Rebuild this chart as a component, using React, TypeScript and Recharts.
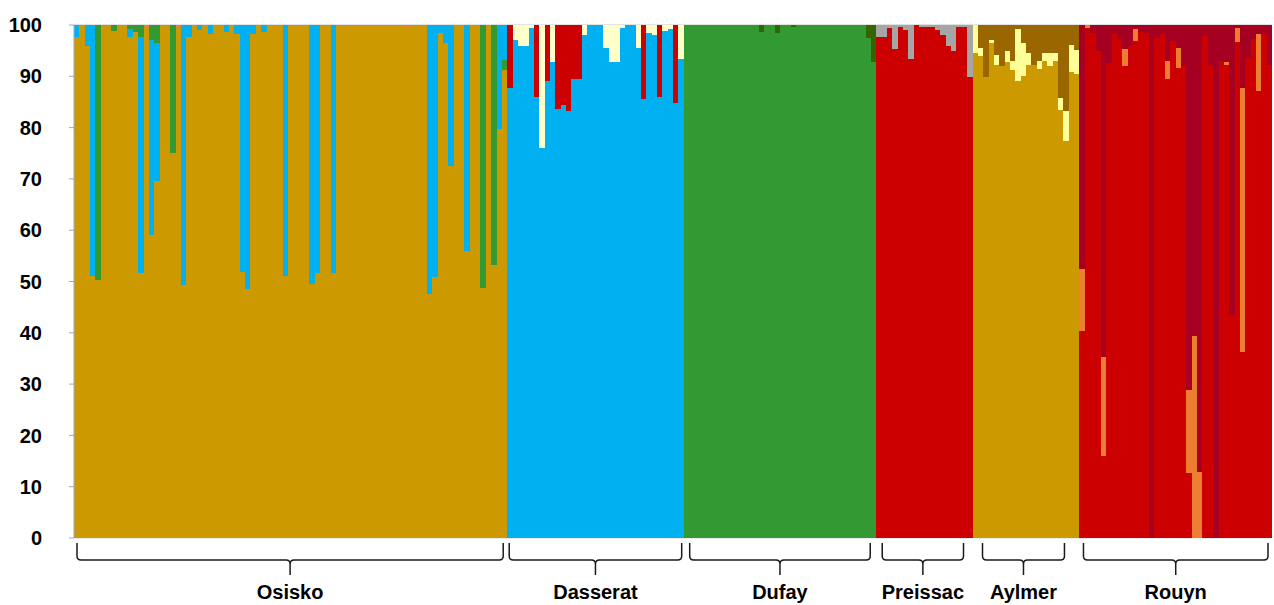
import { BarChart, Bar, XAxis, YAxis, CartesianGrid } from 'recharts';

// membership (%) per individual, one array per cluster and site
const osiskoGold = [
  97.7, 100, 96, 51, 50.3, 100, 100, 98.8, 100, 100,
  97.7, 98.6, 51.7, 99.6, 59, 69.5, 100, 100, 75, 99.5,
  49.3, 97.7, 100, 99, 100, 98.2, 100, 100, 98.6, 100,
  98.2, 51.9, 48.5, 98.2, 100, 98.6, 100, 100, 100, 51.1,
  100, 100, 100, 100, 49.6, 51.6, 100, 100, 51.7, 100,
  100, 100, 100, 100, 100, 100, 100, 100, 100, 100,
  100, 100, 99.5, 100, 100, 100, 47.5, 50.9, 98.5, 96.4,
  72.5, 100, 100, 56, 100, 100, 48.7, 100, 53.2, 79.7,
  91.2,
];
const osiskoBlue = [
  2.3, 0, 4, 49, 0, 0, 0, 0, 0, 0,
  1.5, 0, 46, 0, 38, 26.9, 0, 0, 0, 0,
  50.7, 2.3, 0, 1, 0, 1.8, 0, 0, 1.4, 0,
  1.8, 48.1, 51.5, 1.8, 0, 1.4, 0, 0, 0, 48.9,
  0, 0, 0, 0, 50.4, 48.4, 0, 0, 48.3, 0,
  0, 0, 0, 0, 0, 0, 0, 0, 0, 0,
  0, 0, 0, 0, 0, 0, 52.5, 49.1, 1.5, 3.6,
  27.5, 0, 0, 44, 0, 0, 0, 0, 0, 20.3,
  6.8,
];
const osiskoGreen = [
  0, 0, 0, 0, 49.7, 0, 0, 1.2, 0, 0,
  0, 1.4, 0, 0, 0, 0, 0, 0, 25, 0,
  0, 0, 0, 0, 0, 0, 0, 0, 0, 0,
  0, 0, 0, 0, 0, 0, 0, 0, 0, 0,
  0, 0, 0, 0, 0, 0, 0, 0, 0, 0,
  0, 0, 0, 0, 0, 0, 0, 0, 0, 0,
  0, 0, 0, 0, 0, 0, 0, 0, 0, 0,
  0, 0, 0, 0, 0, 0, 51.3, 0, 46.8, 0,
  2,
];
const osiskoGreenTop = [
  0, 0, 0, 0, 0, 0, 0, 0, 0, 0,
  0.8, 0, 2.3, 0, 3, 3.6, 0, 0, 0, 0,
  0, 0, 0, 0, 0, 0, 0, 0, 0, 0,
  0, 0, 0, 0, 0, 0, 0, 0, 0, 0,
  0, 0, 0, 0, 0, 0, 0, 0, 0, 0,
  0, 0, 0, 0, 0, 0, 0, 0, 0, 0,
  0, 0, 0, 0, 0, 0, 0, 0, 0, 0,
  0, 0, 0, 0, 0, 0, 0, 0, 0, 0,
  0,
];
const osiskoOrange = [
  0, 0, 0, 0, 0, 0, 0, 0, 0, 0,
  0, 0, 0, 0.4, 0, 0, 0, 0, 0, 0.5,
  0, 0, 0, 0, 0, 0, 0, 0, 0, 0,
  0, 0, 0, 0, 0, 0, 0, 0, 0, 0,
  0, 0, 0, 0, 0, 0, 0, 0, 0, 0,
  0, 0, 0, 0, 0, 0, 0, 0, 0, 0,
  0, 0, 0.5, 0, 0, 0, 0, 0, 0, 0,
  0, 0, 0, 0, 0, 0, 0, 0, 0, 0,
  0,
];

const dasseratBlue = [
  87.7, 97.1, 95.9, 95.9, 99.5, 86, 76, 89.1, 92.8, 83.6,
  84.4, 83.3, 89.4, 89.5, 98, 100, 100, 100, 95.6, 92.7,
  92.8, 99.5, 100, 100, 95.6, 85.5, 98.5, 98, 86, 98.9,
  99.2, 84.7, 93.4,
];
const dasseratRed = [
  12.3, 0, 0, 0, 0, 14, 0, 10.9, 0, 16.4,
  15.6, 16.7, 10.6, 10.5, 0, 0, 0, 0, 0, 0,
  0, 0, 0, 0, 0, 14.5, 0, 0, 14, 0,
  0, 15.3, 0,
];
const dasseratPale = [
  0, 2.9, 4.1, 4.1, 0.5, 0, 24, 0, 7.2, 0,
  0, 0, 0, 0, 2, 0, 0, 0, 4.4, 7.3,
  7.2, 0.5, 0, 0, 4.4, 0, 1.5, 2, 0, 1.1,
  0.8, 0, 6.6,
];

const dufayGreen = [
  100, 100, 100, 100, 100, 100, 100, 100, 100, 100,
  100, 100, 100, 100, 98.7, 100, 100, 98.5, 100, 100,
  99.6, 100, 100, 100, 100, 100, 100, 100, 100, 100,
  100, 100, 100, 100, 97.4, 92.7,
];
const dufayDarkGreen = [
  0, 0, 0, 0, 0, 0, 0, 0, 0, 0,
  0, 0, 0, 0, 1.3, 0, 0, 1.5, 0, 0,
  0.4, 0, 0, 0, 0, 0, 0, 0, 0, 0,
  0, 0, 0, 0, 2.6, 7.3,
];

const preissacRed = [
  97.7, 97.7, 99.5, 95.3, 99.7, 99, 93.3, 100, 99.7, 99.7,
  99.7, 99.1, 98.1, 95.9, 94.9, 99.7, 99.7, 89.8,
];
const preissacGrey = [
  2.3, 2.3, 0.5, 4.7, 0.3, 1, 6.7, 0, 0.3, 0.3,
  0.3, 0.9, 1.9, 4.1, 5.1, 0.3, 0.3, 10.2,
];

const aylmerGold = [
  94.5, 93.9, 89.8, 96.4, 92.3, 92, 92.7, 91.2, 89, 90,
  92.3, 92.3, 91.4, 92.9, 92, 92.9, 83.5, 77.4, 90.9, 90.5,
];
const aylmerYellow = [
  5.5, 1.6, 0, 0.7, 1.9, 0, 2.3, 1.7, 10.2, 6.4,
  2.2, 0, 1.5, 1.6, 2.5, 1.6, 2.2, 5.8, 5.2, 4.6,
];
const aylmerBrown = [
  0, 4.5, 10.2, 2.9, 5.8, 8, 5, 7.1, 0.8, 3.6,
  5.5, 7.7, 7.1, 5.5, 5.5, 5.5, 14.3, 16.8, 3.9, 4.9,
];

const rouynRed = [
  40.4, 99.4, 98.4, 94.9, 16, 92.5, 98.2, 97, 92.1, 95.9,
  96.8, 98.7, 98.4, 0, 97.4, 98.2, 89.5, 96.9, 91.7, 92.1,
  12.7, 0, 0, 97.8, 92.1, 0, 92.9, 92.2, 43.5, 96.7,
  36.2, 93.5, 97.2, 87.2, 98.2, 92.2,
];
const rouynOrange = [
  12, 0.6, 0, 0, 19.2, 0, 0, 0, 3.3, 0,
  2.4, 0, 0, 0, 0, 0, 3.4, 0, 3.8, 0,
  16.1, 39.4, 12.9, 0, 0, 0, 0, 0.5, 0, 2.8,
  51.5, 0, 0, 11, 0, 0,
];
const rouynDarkRed = [
  47.6, 0, 1.6, 5.1, 64.8, 7.5, 1.8, 3, 4.6, 4.1,
  0.8, 1.3, 1.6, 100, 2.6, 1.8, 7.1, 3.1, 4.5, 7.9,
  71.2, 60.6, 87.1, 2.2, 7.9, 100, 7.1, 7.3, 56.5, 0.5,
  12.3, 6.5, 2.8, 1.8, 1.8, 7.8,
];

const yTicks = [0, 10, 20, 30, 40, 50, 60, 70, 80, 90, 100];

const sites = [
  { name: 'Osisko', parts: { gold: osiskoGold, green: osiskoGreen, blue: osiskoBlue, greenTop: osiskoGreenTop, orange: osiskoOrange } },
  { name: 'Dasserat', parts: { blue: dasseratBlue, red: dasseratRed, pale: dasseratPale } },
  { name: 'Dufay', parts: { green: dufayGreen, darkGreen: dufayDarkGreen } },
  { name: 'Preissac', parts: { red: preissacRed, grey: preissacGrey } },
  { name: 'Aylmer', parts: { gold: aylmerGold, yellow: aylmerYellow, brown: aylmerBrown } },
  { name: 'Rouyn', parts: { red: rouynRed, orange: rouynOrange, darkRed: rouynDarkRed } },
];

// stacking order, bottom to top
const clusters = [
  { key: 'gold', color: '#CC9900' },
  { key: 'green', color: '#339933' },
  { key: 'blue', color: '#00B0F0' },
  { key: 'greenTop', color: '#339933' },
  { key: 'red', color: '#CC0000' },
  { key: 'orange', color: '#ED7D31' },
  { key: 'darkRed', color: '#A50021' },
  { key: 'pale', color: '#FFFFCC' },
  { key: 'grey', color: '#A6A6A6' },
  { key: 'yellow', color: '#FFFF99' },
  { key: 'brown', color: '#996600' },
  { key: 'darkGreen', color: '#336600' },
];

const rows: Record<string, any>[] = [];
const siteSpans: { name: string; start: number; count: number }[] = [];
sites.forEach((s) => {
  const arrs = Object.values(s.parts) as number[][];
  const count = arrs[0].length;
  siteSpans.push({ name: s.name, start: rows.length, count });
  for (let i = 0; i < count; i++) {
    const row: Record<string, any> = { id: `${s.name}-${i + 1}` };
    clusters.forEach((c) => {
      const arr = (s.parts as any)[c.key] as number[] | undefined;
      row[c.key] = arr ? arr[i] : 0;
    });
    rows.push(row);
  }
});

const W = 1274;
const H = 605;
const PLOT_LEFT = 74;
const PLOT_RIGHT = 1272;
const PLOT_TOP = 25;
const PLOT_BOTTOM = 538;
const BAND = (PLOT_RIGHT - PLOT_LEFT) / rows.length;
const font = '"Liberation Sans", Arial, sans-serif';

// recharts rounds bar width down to whole pixels; snap each bar to its full band instead
const fullBand = (props: any) => {
  const { y, height, fill, index } = props;
  if (!height || height <= 0) return <g />;
  const x0 = Math.round(PLOT_LEFT + index * BAND);
  const x1 = Math.round(PLOT_LEFT + (index + 1) * BAND);
  return <rect x={x0} y={y} width={x1 - x0} height={height} fill={fill} shapeRendering="crispEdges" />;
};

function Brackets() {
  const insets: Record<string, [number, number]> = {
    Osisko: [3, 4], Dasserat: [2, 2], Dufay: [6, 6], Preissac: [6, 9], Aylmer: [10, 15], Rouyn: [4, 4],
  };
  return (
    <svg width={W} height={H} style={{ position: 'absolute', left: 0, top: 0, pointerEvents: 'none' }}>
      {siteSpans.map((g) => {
        const [li, ri] = insets[g.name];
        const x1 = PLOT_LEFT + g.start * BAND + li;
        const x2 = PLOT_LEFT + (g.start + g.count) * BAND - ri;
        const cx = (x1 + x2) / 2;
        const top = 543;
        const mid = 560;
        const tip = 575;
        const d = `M${x1},${top} L${x1},${mid - 4} Q${x1},${mid} ${x1 + 4},${mid} L${cx - 4},${mid} Q${cx},${mid} ${cx},${mid + 4} L${cx},${tip} M${cx},${mid + 4} Q${cx},${mid} ${cx + 4},${mid} L${x2 - 4},${mid} Q${x2},${mid} ${x2},${mid - 4} L${x2},${top}`;
        return (
          <g key={g.name}>
            <path d={d} fill="none" stroke="#1a1a1a" strokeWidth={1.5} />
            <text x={cx} y={599} textAnchor="middle" fontFamily={font} fontWeight="bold" fontSize={20} fill="#000">
              {g.name}
            </text>
          </g>
        );
      })}
    </svg>
  );
}

export default function App() {
  return (
    <div style={{ position: 'absolute', left: 0, top: 0, width: W, height: H, background: '#fff' }}>
      <BarChart
        width={W}
        height={H}
        data={rows}
        barCategoryGap={0}
        barGap={0}
        margin={{ top: PLOT_TOP, right: W - PLOT_RIGHT, bottom: H - PLOT_BOTTOM, left: 0 }}
      >
        <CartesianGrid vertical={false} stroke="#D9D9D9" />
        <XAxis dataKey="id" hide />
        <YAxis
          width={PLOT_LEFT}
          type="number"
          domain={[0, 100]}
          ticks={yTicks}
          interval={0}
          tickSize={5}
          tickMargin={27}
          axisLine={{ stroke: '#9AA8C6' }}
          tickLine={{ stroke: '#9AA8C6' }}
          tick={{ fontSize: 20, fontWeight: 'bold', fill: '#000', fontFamily: font }}
        />
        {clusters.map((c) => (
          <Bar key={c.key} dataKey={c.key} stackId="q" fill={c.color} shape={fullBand} isAnimationActive={false} />
        ))}
      </BarChart>
      <Brackets />
    </div>
  );
}
